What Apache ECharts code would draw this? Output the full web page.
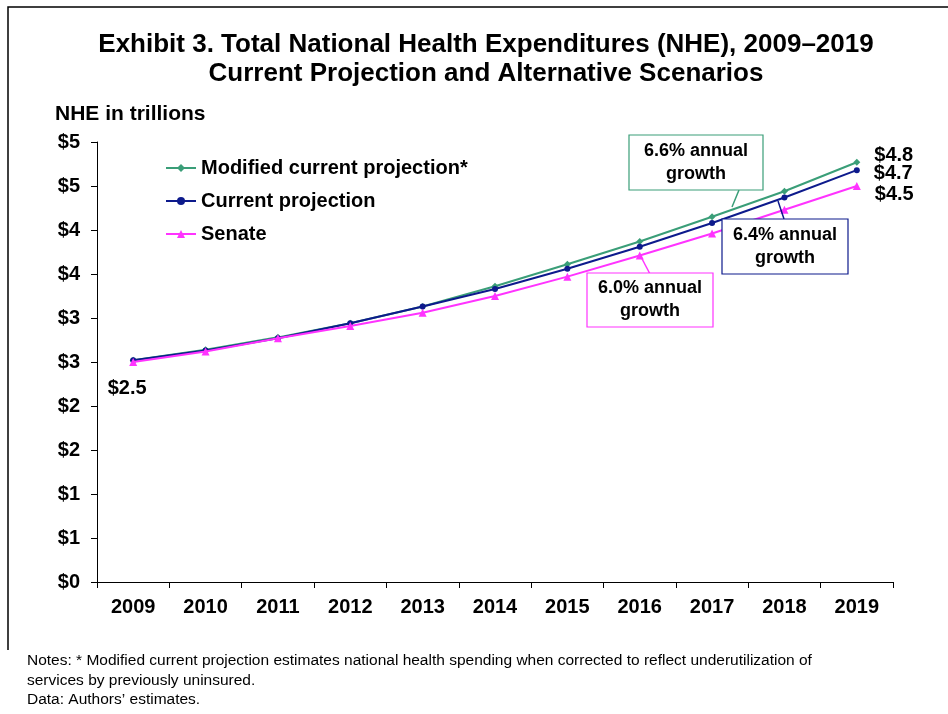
<!DOCTYPE html>
<html>
<head>
<meta charset="utf-8">
<script src="https://cdn.jsdelivr.net/npm/echarts@6/dist/echarts.min.js"></script>
<style>
  html, body { margin: 0; padding: 0; background: #fff; }
  #chart_container { width: 948px; height: 714px; }
</style>
</head>
<body>
<div id="chart_container"></div>
<script>
var years = ["2009", "2010", "2011", "2012", "2013", "2014", "2015", "2016", "2017", "2018", "2019"];
var modifiedProjection = [2.52, 2.64, 2.78, 2.94, 3.13, 3.36, 3.61, 3.87, 4.15, 4.44, 4.77];
var currentProjection = [2.52, 2.63, 2.77, 2.94, 3.13, 3.33, 3.56, 3.81, 4.08, 4.37, 4.68];
var senate = [2.50, 2.62, 2.77, 2.91, 3.06, 3.25, 3.47, 3.71, 3.96, 4.23, 4.50];
var endLabels = ["$4.8", "$4.7", "$4.5"];
var startLabel = "$2.5";

var FONT = "'Liberation Sans', Arial, sans-serif";
var dom = document.getElementById("chart_container");
var myChart = echarts.init(dom, null, { renderer: "canvas" });

// attach a value label to the last point (and the first point for one series)
function withLabels(values, endText, endOffset, startText) {
  return values.map(function (v, i) {
    if (i === values.length - 1) {
      return {
        value: v,
        label: {
          show: true, position: "right", distance: 14, offset: [0, endOffset],
          formatter: endText, color: "#000", fontWeight: "bold", fontSize: 20, fontFamily: FONT
        }
      };
    }
    if (i === 0 && startText) {
      return {
        value: v,
        label: {
          show: true, position: "bottom", distance: 12, offset: [-6, 0],
          formatter: startText, color: "#000", fontWeight: "bold", fontSize: 20, fontFamily: FONT
        }
      };
    }
    return v;
  });
}

function noteBox(x, y, w, h, color, lineText) {
  return [
    {
      type: "rect", shape: { x: x, y: y, width: w, height: h },
      style: { fill: "#fff", stroke: color, lineWidth: 1.2 }, z: 100
    },
    {
      type: "text", z: 101,
      style: {
        text: lineText, x: x + w / 2, y: y + h / 2, align: "center", verticalAlign: "middle",
        font: "bold 18px " + FONT, fill: "#000", lineHeight: 23
      }
    }
  ];
}

var option = {
  animation: false,
  backgroundColor: "#fff",
  grid: { left: 97, right: 55, top: 142, bottom: 132 },
  legend: {
    orient: "vertical", left: 160, top: 153,
    itemWidth: 30, itemHeight: 10, itemGap: 13,
    textStyle: { color: "#000", fontWeight: "bold", fontSize: 20, fontFamily: FONT, lineHeight: 20 },
    data: ["Modified current projection*", "Current projection", "Senate"]
  },
  xAxis: {
    type: "category", data: years, boundaryGap: true,
    axisLine: { lineStyle: { color: "#000", width: 1 } },
    axisTick: { show: true, length: 6, lineStyle: { color: "#000" } },
    axisLabel: { color: "#000", fontWeight: "bold", fontSize: 20, fontFamily: FONT, margin: 15 }
  },
  yAxis: {
    type: "value", min: 0, max: 5, interval: 0.5,
    axisLine: { show: true, lineStyle: { color: "#000", width: 1 } },
    axisTick: { show: true, length: 6, lineStyle: { color: "#000" } },
    splitLine: { show: false },
    axisLabel: {
      color: "#000", fontWeight: "bold", fontSize: 20, fontFamily: FONT, margin: 17,
      formatter: function (v) { return "$" + Math.round(v); }
    }
  },
  series: [
    {
      name: "Modified current projection*", type: "line",
      data: withLabels(modifiedProjection, endLabels[0], -7),
      color: "#3a9e78", symbol: "diamond", symbolSize: 7,
      lineStyle: { width: 2 }, z: 3
    },
    {
      name: "Current projection", type: "line",
      data: withLabels(currentProjection, endLabels[1], 3),
      color: "#0d1a8c", symbol: "circle", symbolSize: 6,
      lineStyle: { width: 2 }, z: 4
    },
    {
      name: "Senate", type: "line",
      data: withLabels(senate, endLabels[2], 8, startLabel),
      color: "#ff33ff", symbol: "triangle", symbolSize: 8,
      lineStyle: { width: 2 }, z: 5
    }
  ],
  graphic: [
    // outer frame (open at the bottom/right like the source)
    { type: "polyline", shape: { points: [[8, 650], [8, 7], [948, 7]] }, style: { stroke: "#000", lineWidth: 1.5, fill: null } },
    {
      type: "text",
      style: {
        text: "Exhibit 3. Total National Health Expenditures (NHE), 2009\u20132019\nCurrent Projection and Alternative Scenarios",
        x: 486, y: 59, align: "center", verticalAlign: "middle",
        font: "bold 26px " + FONT, fill: "#000", lineHeight: 29
      }
    },
    { type: "text", style: { text: "NHE in trillions", x: 55, y: 114, verticalAlign: "middle", font: "bold 21px " + FONT, fill: "#000" } },
    // connectors
    { type: "line", z: 99, shape: { x1: 739, y1: 190, x2: 732, y2: 207 }, style: { stroke: "#3a9e78", lineWidth: 1.5 } },
    { type: "line", z: 99, shape: { x1: 784, y1: 219, x2: 778, y2: 201 }, style: { stroke: "#0d1a8c", lineWidth: 1.5 } },
    { type: "line", z: 99, shape: { x1: 650, y1: 274, x2: 640, y2: 255 }, style: { stroke: "#ff33ff", lineWidth: 1.5 } }
  ]
    .concat(noteBox(629, 135, 134, 55, "#3a9e78", "6.6% annual\ngrowth"))
    .concat(noteBox(722, 219, 126, 55, "#0d1a8c", "6.4% annual\ngrowth"))
    .concat(noteBox(587, 273, 126, 54, "#ff33ff", "6.0% annual\ngrowth"))
    .concat([
      {
        type: "text",
        style: {
          text: "Notes: * Modified current projection estimates national health spending when corrected to reflect underutilization of\nservices by previously uninsured.\nData: Authors\u2019 estimates.",
          x: 27, y: 651, font: "15.5px " + FONT, fill: "#000", lineHeight: 19.5
        }
      }
    ])
};

myChart.setOption(option);
window.addEventListener("resize", myChart.resize);
</script>
</body>
</html>
